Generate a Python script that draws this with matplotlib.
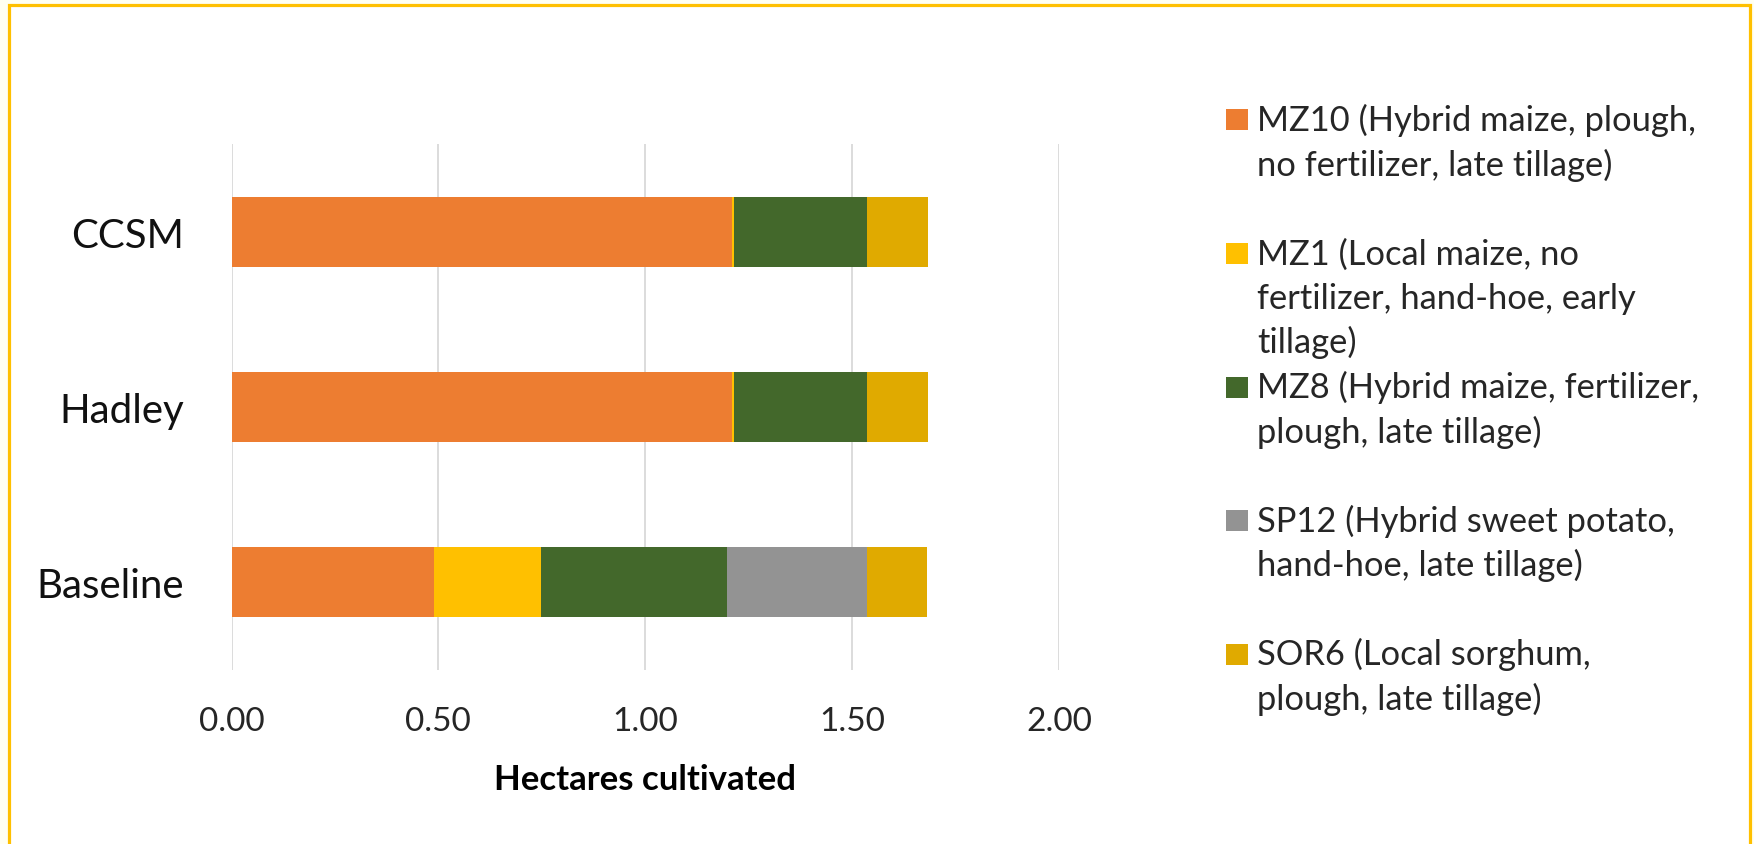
import matplotlib
matplotlib.use("Agg")
import matplotlib.pyplot as plt
from matplotlib.patches import Rectangle

plt.rcParams["font.family"] = ["Lato", "DejaVu Sans"]

# 作付面積（ha）: シナリオ × 作付体系
scenarios = ["CCSM", "Hadley", "Baseline"]
systems = ["MZ10", "MZ1", "MZ8", "SP12", "SOR6"]
legend_labels = [
    "MZ10 (Hybrid maize, plough,\nno fertilizer, late tillage)",
    "MZ1 (Local maize, no\nfertilizer, hand-hoe, early\ntillage)",
    "MZ8 (Hybrid maize, fertilizer,\nplough, late tillage)",
    "SP12 (Hybrid sweet potato,\nhand-hoe, late tillage)",
    "SOR6 (Local sorghum,\nplough, late tillage)",
]
mz10 = [1.21, 1.21, 0.49]
mz1 = [0.004, 0.004, 0.258]
mz8 = [0.322, 0.322, 0.449]
sp12 = [0.0, 0.0, 0.338]
sor6 = [0.147, 0.147, 0.147]
x_ticks = [0.0, 0.5, 1.0, 1.5, 2.0]

colors = ["#ED7D31", "#FFC000", "#43682B", "#939393", "#E0AA00"]

W, H = 1754, 845
fig = plt.figure(figsize=(W / 100, H / 100), dpi=100, facecolor="#FFFFF2")

# 外枠（下辺は画像外まで）
fig.patches.append(Rectangle((8.5 / W, -0.05), (1749.5 - 8.5) / W, 1 - 5.5 / H + 0.05,
                             transform=fig.transFigure, facecolor="white",
                             edgecolor="#FFC000", linewidth=2.3, zorder=-10))

ax = fig.add_axes([231.5 / W, 1 - 671 / H, (1059 - 231.5) / W, (671 - 145) / H])
ax.set_facecolor("none")

ypos = list(range(len(scenarios)))
left = [0.0] * len(scenarios)
for vals, c in zip([mz10, mz1, mz8, sp12, sor6], colors):
    ax.barh(ypos, vals, left=left, height=0.4, color=c, edgecolor="none", zorder=3)
    left = [l + v for l, v in zip(left, vals)]

ax.set_ylim(-0.5, 2.5)
ax.invert_yaxis()
ax.set_xlim(0, 2.0)
ax.set_xticks(x_ticks)
ax.set_xticklabels([f"{t:.2f}" for t in x_ticks], fontsize=24, color="#262626")
ax.set_yticks(ypos)
ax.set_yticklabels(scenarios, fontsize=29, color="#111111")
ax.tick_params(axis="x", length=0, pad=26)
ax.tick_params(axis="y", length=0, pad=34)
ax.grid(axis="x", color="#D9D9D9", linewidth=1.3, zorder=0)
for s in ax.spines.values():
    s.set_visible(False)

ax.set_xlabel("Hectares cultivated", fontsize=25, fontweight="bold", va="center")
ax.xaxis.set_label_coords(0.5, (671 - 780) / 526)

# 凡例（手組み）
entry_cy = [120.5, 254, 388, 521, 655]
line_h = 44.5
for lab, c, cy in zip(legend_labels, colors, entry_cy):
    fig.patches.append(Rectangle((1226 / W, 1 - (cy + 10.5) / H), 22 / W, 21 / H,
                                 transform=fig.transFigure, facecolor=c,
                                 edgecolor="none"))
    for i, line in enumerate(lab.split("\n")):
        fig.text(1257 / W, 1 - (cy + 10.5 + i * line_h) / H, line, fontsize=24.8,
                 color="#262626", va="baseline", ha="left")

fig.savefig("out.png", dpi=100, facecolor=fig.get_facecolor())
